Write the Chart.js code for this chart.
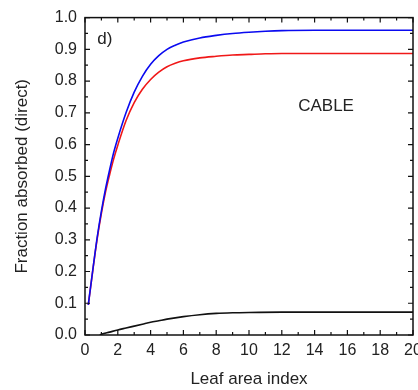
<!DOCTYPE html>
<html><head><meta charset="utf-8">
<script src="https://cdn.jsdelivr.net/npm/chart.js@4/dist/chart.umd.min.js"></script>
<style>html,body{margin:0;padding:0;background:#fff;overflow:hidden;width:418px;height:390px}</style>
</head><body>
<canvas id="c" width="440" height="390" style="display:block;width:440px;height:390px"></canvas>
<script>
// ---- data ----
const laiBlue  = [0.2,0.5,0.75,1.0,1.25,1.5,1.75,2.0,2.5,3.0,3.5,4.0,4.5,5.0,5.5,6.0,7.0,8.0,9.0,10,11,12,14,16,18,20];
const fracBlue = [0.095,0.215,0.31,0.39,0.46,0.52,0.575,0.62,0.70,0.765,0.815,0.853,0.88,0.90,0.913,0.923,0.936,0.944,0.950,0.954,0.957,0.959,0.96,0.96,0.96,0.96];
const laiRed   = [0.2,0.5,0.75,1.0,1.25,1.5,1.75,2.0,2.5,3.0,3.5,4.0,4.5,5.0,5.5,6.0,7.0,8.0,9.0,10,11,12,14,16,18,20];
const fracRed  = [0.095,0.213,0.305,0.383,0.45,0.505,0.555,0.598,0.675,0.732,0.774,0.805,0.828,0.845,0.856,0.864,0.873,0.878,0.882,0.884,0.886,0.887,0.887,0.887,0.887,0.887];
const laiBlack  = [0.9,1.0,1.5,2.0,2.5,3.0,3.5,4.0,4.5,5.0,6.0,7.0,8.0,9.0,10,12,14,16,18,20];
const fracBlack = [0,0.002,0.009,0.016,0.022,0.028,0.034,0.040,0.045,0.050,0.058,0.064,0.068,0.070,0.071,0.072,0.072,0.072,0.072,0.072];
const xTickValues = [0,2,4,6,8,10,12,14,16,18,20];
const yTickValues = [0.0,0.1,0.2,0.3,0.4,0.5,0.6,0.7,0.8,0.9,1.0];
const xTitle = 'Leaf area index';
const yTitle = 'Fraction absorbed (direct)';
const noteText = ['d)', 'CABLE'];
const noteX = [0.75, 14.7];
const noteY = [0.933, 0.721];

const toPts = (xs, ys) => xs.map((x, i) => ({x: x, y: ys[i]}));
const FONT = "Arial, 'Liberation Sans', sans-serif";

const framePlugin = {
  id: 'frame',
  afterDraw(chart) {
    const ctx = chart.ctx, a = chart.chartArea;
    const xs = chart.scales.x, ys = chart.scales.y;
    ctx.save();
    ctx.strokeStyle = '#111';
    ctx.lineWidth = 1.5;
    ctx.strokeRect(a.left, a.top, a.right - a.left, a.bottom - a.top);
    ctx.lineWidth = 1.2;
    ctx.beginPath();
    for (let i = 0; i <= 20; i++) {
      const v = i * 0.05;
      const p = ys.getPixelForValue(v);
      const L = (i % 2 === 0) ? 5 : 3;
      ctx.moveTo(a.left, p); ctx.lineTo(a.left + L, p);
      ctx.moveTo(a.right, p); ctx.lineTo(a.right - L, p);
    }
    for (let i = 0; i <= 20; i++) {
      const p = xs.getPixelForValue(i);
      const L = (i % 2 === 0) ? 5 : 3;
      ctx.moveTo(p, a.bottom); ctx.lineTo(p, a.bottom - L);
      ctx.moveTo(p, a.top); ctx.lineTo(p, a.top + L);
    }
    ctx.stroke();
    ctx.fillStyle = '#222';
    ctx.font = '17px ' + FONT;
    ctx.textBaseline = 'middle';
    noteText.forEach((t, i) => {
      ctx.textAlign = i === 0 ? 'left' : 'center';
      ctx.fillText(t, xs.getPixelForValue(noteX[i]), ys.getPixelForValue(noteY[i]));
    });
    ctx.restore();
  }
};

new Chart(document.getElementById('c').getContext('2d'), {
  type: 'line',
  data: {
    datasets: [
      {data: toPts(laiBlue, fracBlue), borderColor: '#0a0af0', borderWidth: 1.6},
      {data: toPts(laiRed, fracRed), borderColor: '#f01818', borderWidth: 1.6},
      {data: toPts(laiBlack, fracBlack), borderColor: '#111', borderWidth: 1.6}
    ]
  },
  options: {
    responsive: false,
    animation: false,
    elements: {point: {radius: 0}, line: {cubicInterpolationMode: 'monotone', fill: false}},
    layout: {padding: {left: 0, right: 27, top: 15, bottom: 0}},
    plugins: {legend: {display: false}, tooltip: {enabled: false}},
    scales: {
      x: {
        type: 'linear', min: 0, max: 20,
        afterBuildTicks: s => { s.ticks = xTickValues.map(v => ({value: v})); },
        afterFit: s => { s.height = 55; },
        grid: {display: false, drawTicks: false},
        border: {display: false},
        ticks: {autoSkip: false, maxRotation: 0, padding: 6, color: '#222', font: {family: FONT, size: 16}, callback: v => String(v)},
        title: {display: true, text: xTitle, color: '#222', font: {family: FONT, size: 17}, padding: {top: 0, bottom: 0}}
      },
      y: {
        type: 'linear', min: 0, max: 1,
        afterBuildTicks: s => { s.ticks = yTickValues.map(v => ({value: v})); },
        afterFit: s => { s.width = 85; },
        grid: {display: false, drawTicks: false},
        border: {display: false},
        ticks: {padding: 8, color: '#222', font: {family: FONT, size: 16}, callback: v => Number(v).toFixed(1)},
        title: {display: true, text: yTitle, color: '#222', font: {family: FONT, size: 17}, padding: {top: 12, bottom: 0}}
      }
    }
  },
  plugins: [framePlugin]
});
</script>
</body></html>
